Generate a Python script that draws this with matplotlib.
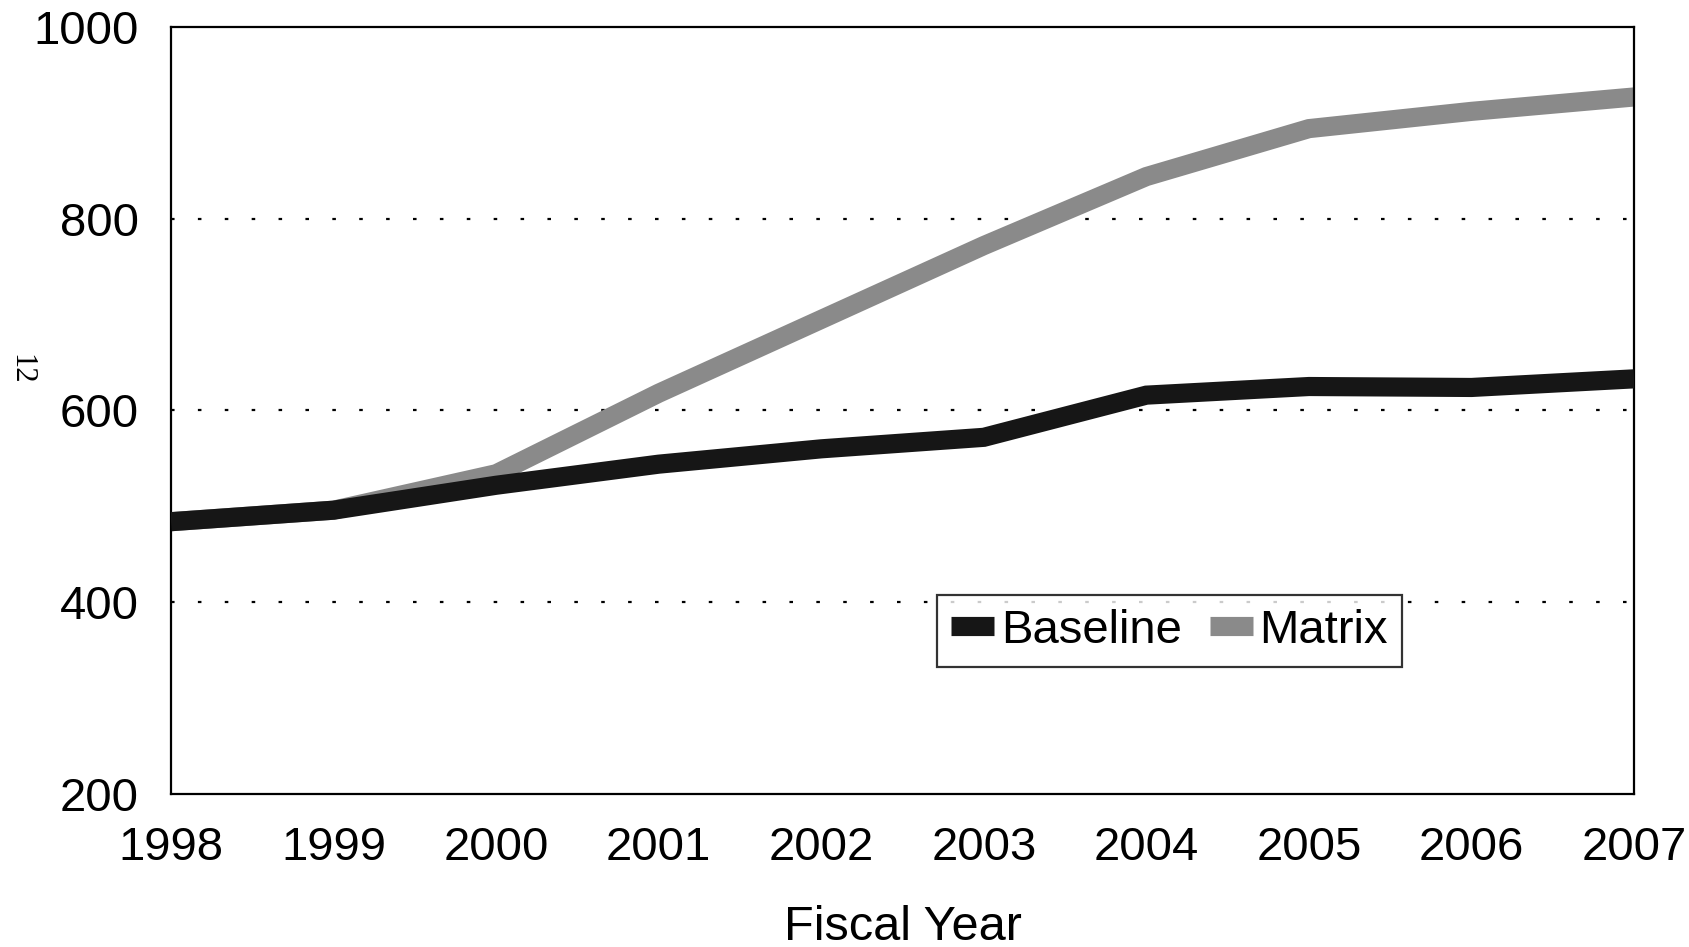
import matplotlib
matplotlib.use("Agg")
import matplotlib.pyplot as plt

# Fiscal years and the two projections
years = [1998, 1999, 2000, 2001, 2002, 2003, 2004, 2005, 2006, 2007]
baseline = [484, 496, 522, 544, 560, 572, 616, 625, 624, 633]
matrix = [484, 496, 534, 618, 695, 772, 844, 894, 912, 927]

y_ticks = [200, 400, 600, 800, 1000]
grid_levels = [400, 600, 800]

plt.rcParams["font.family"] = ["Liberation Sans", "DejaVu Sans"]

fig = plt.figure(figsize=(16.9, 9.47), dpi=100)
ax = fig.add_axes([0.1012, 0.1616, 0.8657, 0.8099])

for lvl in grid_levels:
    ax.axhline(lvl, color="black", lw=1.6, linestyle=(0, (1.6, 10.5)), zorder=1)

ax.plot(years, matrix, color="#8a8a8a", lw=13.8, solid_capstyle="butt",
        solid_joinstyle="miter", label="Matrix", zorder=2)
ax.plot(years, baseline, color="#161616", lw=13.8, solid_capstyle="butt",
        solid_joinstyle="miter", label="Baseline", zorder=3)

ax.set_xlim(years[0], years[-1])
ax.set_ylim(200, 1000)
ax.set_xticks(years)
ax.set_yticks(y_ticks)
ax.tick_params(axis="both", length=0, labelsize=34)
ax.tick_params(axis="y", pad=23)
ax.tick_params(axis="x", pad=23)
for s in ax.spines.values():
    s.set_linewidth(1.6)
    s.set_color("black")

ax.set_xlabel("Fiscal Year", fontsize=35, labelpad=25)

handles, labels = ax.get_legend_handles_labels()
leg = ax.legend(handles[::-1], labels[::-1], ncol=2, fontsize=34,
                loc="lower left", bbox_to_anchor=(0.5236, 0.1656),
                frameon=True, fancybox=False, handlelength=0.9,
                handletextpad=0.15, columnspacing=0.6, borderpad=0.3,
                borderaxespad=0.0)
leg.get_frame().set_edgecolor("black")
leg.get_frame().set_linewidth(1.6)

fig.text(0.0124, 0.61, "12", rotation=-90, fontsize=22,
         family=["Liberation Serif", "DejaVu Serif"], ha="center", va="center")

fig.savefig("out.png", dpi=100, facecolor="white")
